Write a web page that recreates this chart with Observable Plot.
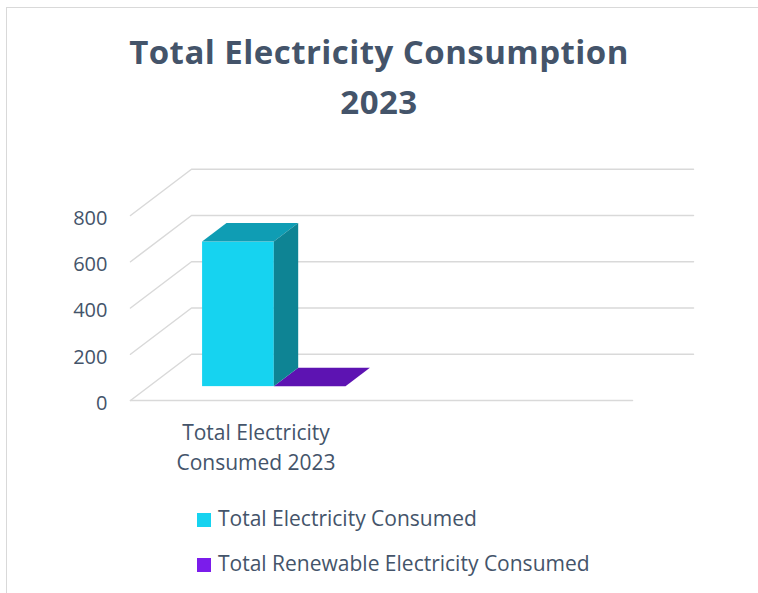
<!DOCTYPE html>
<html><head><meta charset="utf-8">
<script src="https://cdn.jsdelivr.net/npm/d3@7"></script>
<script src="https://cdn.jsdelivr.net/npm/@observablehq/plot@0.6"></script>
<style>
body{margin:0;background:#fff;overflow:hidden;}
#wrap{position:relative;width:758px;height:593px;overflow:hidden;font-family:"Open Sans",sans-serif;color:#44546A;}
#frame{position:absolute;left:6px;top:7px;width:800px;height:700px;border:1px solid #d9d9d9;box-sizing:border-box;}
#title{position:absolute;left:0;width:758px;top:27px;text-align:center;font-weight:700;font-size:33px;letter-spacing:0.45px;line-height:50px;white-space:nowrap;}
#chart{position:absolute;left:0;top:150px;}
.lg{position:absolute;left:197px;font-size:21px;line-height:24px;white-space:nowrap;}
.lg span.sw{position:absolute;left:0;width:14px;height:14px;}
.lg span.tx{position:absolute;left:21px;top:0;}
</style></head><body>
<div id="wrap">
 <div id="frame"></div>
 <div id="title">Total Electricity Consumption<br>2023</div>
 <div id="chart"></div>
 <div id="legend"></div>
</div>
<script>
// ---- data ----
const categories = ["Total Electricity Consumed 2023", ""];
const seriesNames = ["Total Electricity Consumed", "Total Renewable Electricity Consumed"];
const totalConsumed = [625, null];
const renewableConsumed = [0, null];
const yTicks = [0, 200, 400, 600, 800];

// ---- styling / projection constants ----
const palette = [
  {legend: "#16D3F0", front: "#16D3F0", top: "#0F9DB4", side: "#0E8494"},
  {legend: "#7B1CEB", front: "#7B1CEB", top: "#5D13B2", side: "#4A0E8E"}
];
const DX = 0.1215;   // floor depth, horizontal (x units)
const DY = 200;      // floor depth, vertical (value units)
const D0 = 0.3, D1 = 0.7; // bar depth span
const GAP = 1.5;     // gap width as fraction of bar width

const seriesValues = [totalConsumed, renewableConsumed];
const band = d3.scaleBand().domain(categories).range([0, 1]);
const bw = band.bandwidth();
const w = bw / (seriesValues.length + GAP);

const fronts = [], tops = [], sides = [];
categories.forEach((c, ci) => {
  const start = band(c) + (bw - w * seriesValues.length) / 2;
  seriesValues.forEach((vals, si) => {
    const v = vals[ci];
    if (v == null) return;
    const x0 = start + si * w, x1 = x0 + w, id = ci + "-" + si, col = palette[si];
    fronts.push({x1: x0 + D0 * DX, x2: x1 + D0 * DX, y1: D0 * DY, y2: v + D0 * DY, fill: col.front});
    tops.push({id, y: v + D0 * DY, xa: x0 + D0 * DX, xb: x1 + D0 * DX, fill: col.top});
    tops.push({id, y: v + D1 * DY, xa: x0 + D1 * DX, xb: x1 + D1 * DX, fill: col.top});
    sides.push({id, x: x1 + D0 * DX, ya: D0 * DY, yb: v + D0 * DY, fill: col.side});
    sides.push({id, x: x1 + D1 * DX, ya: D1 * DY, yb: v + D1 * DY, fill: col.side});
  });
});

const grid = [];
yTicks.forEach(t => {
  grid.push({t, x: 0, y: t});
  grid.push({t, x: DX, y: t + DY});
  grid.push({t, x: 1 + DX, y: t + DY});
});
const floorFront = [{x: 0, y: 0}, {x: 1, y: 0}];

const labels = categories.filter(c => c !== "").map(c => ({c, x: band(c) + bw / 2}));

const chart = Plot.plot({
  width: 758, height: 330,
  marginLeft: 130, marginRight: 126, marginTop: 18.75, marginBottom: 80,
  style: {fontFamily: "'Open Sans', sans-serif", fontSize: "20px", color: "#44546A", background: "transparent", overflow: "visible"},
  x: {domain: [0, 1], axis: null},
  y: {domain: [0, 1000], axis: null},
  color: {type: "identity"},
  marks: [
    Plot.line(grid, {x: "x", y: "y", z: "t", stroke: "#d9d9d9", strokeWidth: 1.5}),
    Plot.line(floorFront, {x: "x", y: "y", stroke: "#d9d9d9", strokeWidth: 1.5}),
    Plot.rect(fronts, {x1: "x1", x2: "x2", y1: "y1", y2: "y2", fill: "fill"}),
    Plot.areaX(tops, {y: "y", x1: "xa", x2: "xb", z: "id", fill: "fill", curve: "linear"}),
    Plot.areaY(sides, {x: "x", y1: "ya", y2: "yb", z: "id", fill: "fill", curve: "linear"}),
    Plot.text(yTicks, {x: () => 0, y: d => d, text: d => String(d), textAnchor: "end", dx: -23, dy: 3, fill: "#44546A", fontSize: 20}),
    Plot.text(labels, {x: "x", y: () => 0, text: "c", lineWidth: 8, lineHeight: 1.43, lineAnchor: "top", dy: 18, fill: "#44546A", fontSize: 21})
  ]
});
document.getElementById("chart").appendChild(chart);

const lg = document.getElementById("legend");
seriesNames.forEach((name, i) => {
  const row = document.createElement("div");
  row.className = "lg";
  row.style.top = (506 + i * 45) + "px";
  row.innerHTML = `<span class="sw" style="background:${palette[i].legend};top:6.5px"></span><span class="tx">${name}</span>`;
  lg.appendChild(row);
});
</script>
</body></html>
